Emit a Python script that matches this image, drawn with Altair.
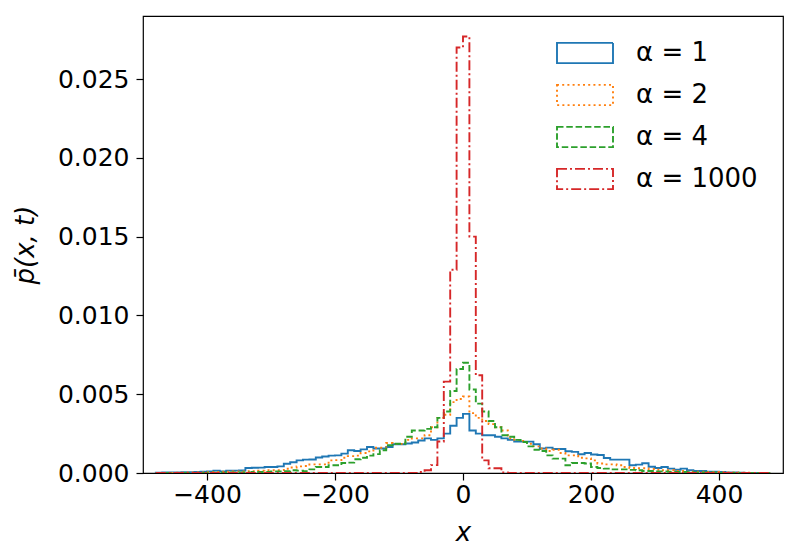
import altair as alt
import pandas as pd

# ---- data ----
EDGES = list(range(-480, 481, 10))          # common bin edges
SERIES = ["α = 1", "α = 2", "α = 4", "α = 1000"]
COLORS = ["#1f77b4", "#ff7f0e", "#2ca02c", "#d62728"]
DASHES = [[1, 0], [2, 3.2], [6.5, 2.8], [10, 3, 2, 3]]
X_TICKS = [-400, -200, 0, 200, 400]
Y_TICKS = [0.0, 0.005, 0.010, 0.015, 0.020, 0.025]

P_ALPHA_1 = [
    0.00002, 0.00003, 0.00004, 0.00004, 0.00005, 0.00005, 0.00006, 0.00008, 0.00010, 0.00015,
    0.00010, 0.00015, 0.00015, 0.00016, 0.00032, 0.00033, 0.00034, 0.00038, 0.00038, 0.00042,
    0.00059, 0.00068, 0.00080, 0.00085, 0.00086, 0.00098, 0.00105, 0.00110, 0.00112, 0.00123,
    0.00144, 0.00140, 0.00150, 0.00165, 0.00155, 0.00155, 0.00165, 0.00182, 0.00182, 0.00187,
    0.00194, 0.00206, 0.00220, 0.00210, 0.00220, 0.00250, 0.00300, 0.00350, 0.00375, 0.00270,
    0.00250, 0.00240, 0.00240, 0.00230, 0.00220, 0.00210, 0.00200, 0.00199, 0.00199, 0.00182,
    0.00155, 0.00161, 0.00152, 0.00152, 0.00138, 0.00134, 0.00119, 0.00127, 0.00117, 0.00114,
    0.00095, 0.00085, 0.00085, 0.00085, 0.00049, 0.00053, 0.00062, 0.00040, 0.00032, 0.00038,
    0.00028, 0.00021, 0.00028, 0.00017, 0.00013, 0.00013, 0.00009, 0.00009, 0.00006, 0.00004,
    0.00003, 0.00002, 0.00001, 0.00001, 0.00001, 0.00000,
]
P_ALPHA_2 = [
    0.00000, 0.00001, 0.00001, 0.00002, 0.00002, 0.00003, 0.00003, 0.00004, 0.00005, 0.00006,
    0.00008, 0.00009, 0.00010, 0.00010, 0.00011, 0.00012, 0.00015, 0.00017, 0.00017, 0.00018,
    0.00027, 0.00035, 0.00042, 0.00044, 0.00055, 0.00055, 0.00055, 0.00080, 0.00082, 0.00097,
    0.00107, 0.00110, 0.00127, 0.00137, 0.00160, 0.00160, 0.00190, 0.00185, 0.00185, 0.00210,
    0.00220, 0.00220, 0.00240, 0.00290, 0.00350, 0.00370, 0.00450, 0.00470, 0.00485, 0.00380,
    0.00350, 0.00330, 0.00310, 0.00290, 0.00270, 0.00220, 0.00210, 0.00203, 0.00186, 0.00169,
    0.00155, 0.00140, 0.00148, 0.00127, 0.00112, 0.00112, 0.00097, 0.00093, 0.00080, 0.00060,
    0.00055, 0.00055, 0.00049, 0.00038, 0.00032, 0.00030, 0.00030, 0.00025, 0.00021, 0.00017,
    0.00017, 0.00013, 0.00013, 0.00009, 0.00009, 0.00009, 0.00007, 0.00007, 0.00005, 0.00004,
    0.00003, 0.00002, 0.00002, 0.00001, 0.00001, 0.00000,
]
P_ALPHA_4 = [
    0.00000, 0.00000, 0.00001, 0.00001, 0.00001, 0.00001, 0.00001, 0.00001, 0.00002, 0.00002,
    0.00002, 0.00003, 0.00003, 0.00004, 0.00004, 0.00006, 0.00006, 0.00007, 0.00010, 0.00010,
    0.00012, 0.00017, 0.00015, 0.00012, 0.00023, 0.00038, 0.00038, 0.00049, 0.00049, 0.00063,
    0.00066, 0.00087, 0.00097, 0.00110, 0.00120, 0.00144, 0.00176, 0.00186, 0.00186, 0.00230,
    0.00270, 0.00270, 0.00280, 0.00290, 0.00350, 0.00390, 0.00520, 0.00660, 0.00700, 0.00530,
    0.00440, 0.00390, 0.00330, 0.00290, 0.00240, 0.00230, 0.00210, 0.00197, 0.00169, 0.00148,
    0.00140, 0.00112, 0.00091, 0.00091, 0.00049, 0.00063, 0.00063, 0.00060, 0.00038, 0.00032,
    0.00028, 0.00023, 0.00023, 0.00023, 0.00020, 0.00017, 0.00013, 0.00013, 0.00010, 0.00010,
    0.00008, 0.00006, 0.00006, 0.00005, 0.00004, 0.00004, 0.00003, 0.00002, 0.00001, 0.00001,
    0.00001, 0.00001, 0.00000, 0.00000, 0.00000, 0.00000,
]
P_ALPHA_1000 = [
    0.0, 0.0, 0.0, 0.0, 0.0, 0.0, 0.0, 0.0, 0.0, 0.0,
    0.0, 0.0, 0.0, 0.0, 0.0, 0.0, 0.0, 0.0, 0.0, 0.0,
    0.0, 0.0, 0.0, 0.0, 0.0, 0.0, 0.0, 0.0, 0.0, 0.0,
    0.0, 0.0, 0.0, 0.0, 0.0, 0.0, 0.0, 0.0, 0.0, 0.0,
    0.00001, 0.00006, 0.00017, 0.00050, 0.00200, 0.00580, 0.01290, 0.02700, 0.02770, 0.01500,
    0.00620, 0.00080, 0.00030, 0.00030, 0.00003, 0.0, 0.0, 0.0, 0.0, 0.0,
    0.0, 0.0, 0.0, 0.0, 0.0, 0.0, 0.0, 0.0, 0.0, 0.0,
    0.0, 0.0, 0.0, 0.0, 0.0, 0.0, 0.0, 0.0, 0.0, 0.0,
    0.0, 0.0, 0.0, 0.0, 0.0, 0.0, 0.0, 0.0, 0.0, 0.0,
    0.0, 0.0, 0.0, 0.0, 0.0, 0.0,
]

# ---- build step outlines (like histtype='step') ----
rows = []
for name, hs in zip(SERIES, [P_ALPHA_1, P_ALPHA_2, P_ALPHA_4, P_ALPHA_1000]):
    pts = [(EDGES[0], 0.0)] + list(zip(EDGES[:-1], hs)) + [(EDGES[-1], 0.0)]
    for k, (xv, yv) in enumerate(pts):
        rows.append({"series": name, "x": xv, "p": yv, "k": k})
df = pd.DataFrame(rows)

FONT = "DejaVu Sans"

legend = alt.Legend(
    title=None,
    orient="none",
    legendX=413,
    legendY=22,
    symbolType="M-1,-0.72H3V0.72H-1Z",
    symbolSize=784,
    symbolStrokeWidth=1.9,
    symbolFillColor="transparent",
    labelFontSize=26,
    labelFont=FONT,
    labelColor="black",
    labelOffset=50,
    rowPadding=13,
    padding=0,
)

chart = (
    alt.Chart(df)
    .mark_line(interpolate="step-after", strokeWidth=1.9, clip=True)
    .encode(
        x=alt.X(
            "x:Q",
            scale=alt.Scale(domain=[-500, 500], nice=False, zero=False),
            axis=alt.Axis(
                values=X_TICKS, format="d", title="x",
                titleFontStyle="italic", titleFontWeight="normal", titleFontSize=26,
                titleX=320, titleY=67, titleAlign="center", titleBaseline="alphabetic",
                labelPadding=2,
            ),
        ),
        y=alt.Y(
            "p:Q",
            scale=alt.Scale(domain=[0, 0.0290], nice=False),
            axis=alt.Axis(
                values=Y_TICKS, format=".3f", title="p\u0304(x, t)",
                titleFontStyle="italic", titleFontWeight="normal", titleFontSize=26,
                titleAngle=270, titleX=-118, titleY=228.5, titleAlign="center",
                titleBaseline="middle", labelPadding=7,
            ),
        ),
        color=alt.Color("series:N", scale=alt.Scale(domain=SERIES, range=COLORS), legend=legend),
        strokeDash=alt.StrokeDash("series:N", scale=alt.Scale(domain=SERIES, range=DASHES), legend=legend),
        order=alt.Order("k:Q"),
    )
    .properties(
        width=640,
        height=457,
        background="white",
        autosize=alt.AutoSizeParams(type="none"),
        padding={"left": 135, "top": 8, "right": 9, "bottom": 75},
    )
    .configure_view(stroke="black", strokeWidth=1.2)
    .configure_axis(
        domain=False, grid=False, ticks=True, tickSize=7, tickWidth=1.2, tickColor="black",
        labelFont=FONT, labelFontSize=25, labelColor="black",
        titleFont=FONT, titleColor="black",
    )
)

chart.save("out.html", embed_options={"renderer": "svg", "actions": False})
